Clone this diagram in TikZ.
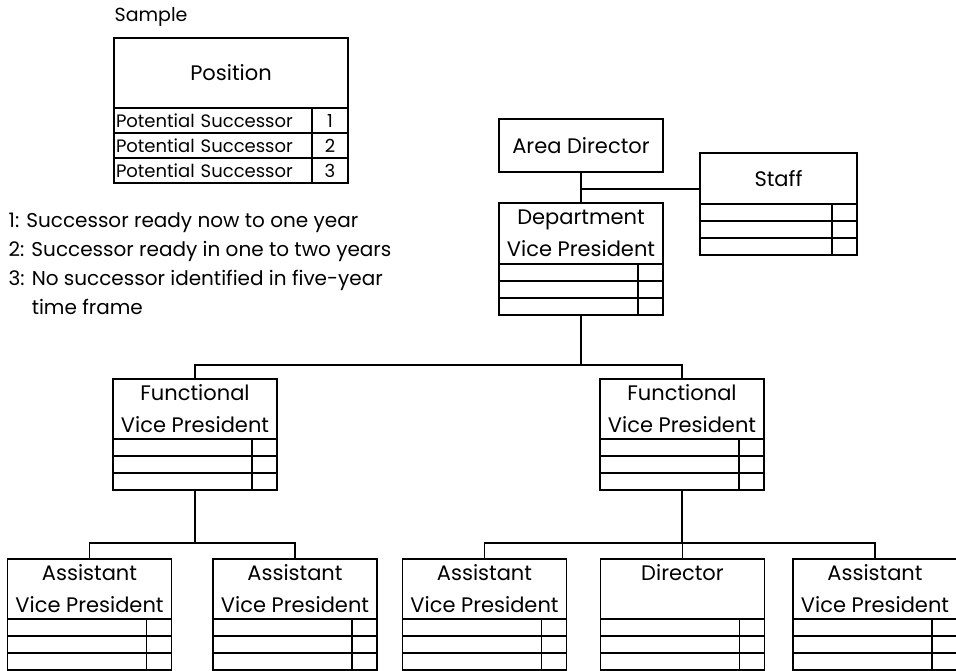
\documentclass[tikz,border=0pt]{standalone}
\usepackage{fontspec}
\setmainfont{Poppins}
\usetikzlibrary{positioning,calc}
\tikzstyle{posbox}=[draw,inner sep=0pt,outer sep=0pt,minimum width=164pt,minimum height=60pt,text depth=0pt,align=center,anchor=north,font=\fontsize{21}{32}\selectfont]
\tikzstyle{slots}=[draw,inner sep=0pt,outer sep=0pt,minimum width=164pt,minimum height=51pt,path picture={
    \foreach \f in {0.333,0.667}
    \draw ($(path picture bounding box.north west)!\f!(path picture bounding box.south west)$) -- ($(path picture bounding box.north east)!\f!(path picture bounding box.south east)$);
    \draw ([xshift=-25pt]path picture bounding box.north east) -- ([xshift=-25pt]path picture bounding box.south east);}]
\tikzstyle{cell}=[draw,inner sep=2pt,outer sep=0pt,minimum height=25pt,font=\fontsize{18}{22}\selectfont]
\begin{document}
\begin{tikzpicture}[x=1pt,y=-1pt,line width=1.2pt]
    \useasboundingbox (0,0) rectangle (956,671);
    % sample and key
    \node[anchor=west,inner sep=0pt,font=\fontsize{19}{22}\selectfont] (smp) at (114,17) {Sample};
    \node[posbox,text depth=,minimum width=234pt,minimum height=70pt] (pos) at (231,38) {Position};
    \node[cell,anchor=north west,text width=194pt,align=left] (ps1) at (114,108) {Potential Successor};
    \node[cell,text width=194pt,align=left,below=0pt of ps1] (ps2) {Potential Successor};
    \node[cell,text width=194pt,align=left,below=0pt of ps2] (ps3) {Potential Successor};
    \node[cell,minimum width=36pt,right=0pt of ps1] (pn1) {1};
    \node[cell,minimum width=36pt,right=0pt of ps2] (pn2) {2};
    \node[cell,minimum width=36pt,right=0pt of ps3] (pn3) {3};
    \node[anchor=north west,align=left,inner sep=0pt,font=\fontsize{20}{29}\selectfont] (key) at (8,212)
        {1: Successor ready now to one year\\2: Successor ready in one to two years\\3: No successor identified in five-year\\\phantom{3: }time frame};

    % chart
    \node[posbox,text depth=,minimum height=53pt] (ad) at (581,119) {Area Director};
    \node[posbox,minimum height=61pt] (dvp) at (581,203) {Department\\Vice President};
    \node[slots,below=0pt of dvp] (dvp-r) {};
    \node[posbox,text depth=,minimum width=157pt,minimum height=51pt] (staff) at (778.5,153) {Staff};
    \node[slots,minimum width=157pt,below=0pt of staff] (staff-r) {};

    \node[posbox] (fvpa) at (195,379) {Functional\\Vice President};
    \node[slots,below=0pt of fvpa] (fvpa-r) {};
    \node[posbox] (fvpb) at (682,379) {Functional\\Vice President};
    \node[slots,below=0pt of fvpb] (fvpb-r) {};

    \node[posbox] (avpa) at (89.5,559) {Assistant\\Vice President};
    \node[slots,below=0pt of avpa] (avpa-r) {};
    \node[posbox] (avpb) at (295,559) {Assistant\\Vice President};
    \node[slots,below=0pt of avpb] (avpb-r) {};
    \node[posbox] (avpc) at (484.5,559) {Assistant\\Vice President};
    \node[slots,below=0pt of avpc] (avpc-r) {};
    \node[posbox] (dir) at (682.5,559) {Director\\\mbox{}};
    \node[slots,below=0pt of dir] (dir-r) {};
    \node[posbox] (avpd) at (875,559) {Assistant\\Vice President};
    \node[slots,below=0pt of avpd] (avpd-r) {};

    \coordinate (j1) at ($(ad.south)!0.55!(dvp.north)$);
    \coordinate (bus0) at (dvp-r.south |- 0,365);
    \coordinate (bus1) at (fvpa-r.south |- 0,543);
    \coordinate (bus2) at (fvpb-r.south |- 0,543);

    \draw (ad) -- (dvp);
    \draw (j1) -- (j1 -| staff.west);
    \draw (dvp-r.south) -- (bus0);
    \draw (fvpa-r.south) -- (bus1);
    \draw (fvpb-r.south) -- (bus2);
    \foreach \from/\to in {bus0/fvpa,bus0/fvpb,bus1/avpa,bus1/avpb,bus2/avpc,bus2/dir,bus2/avpd}
    \draw (\from) -| (\to.north);
\end{tikzpicture}
\end{document}
